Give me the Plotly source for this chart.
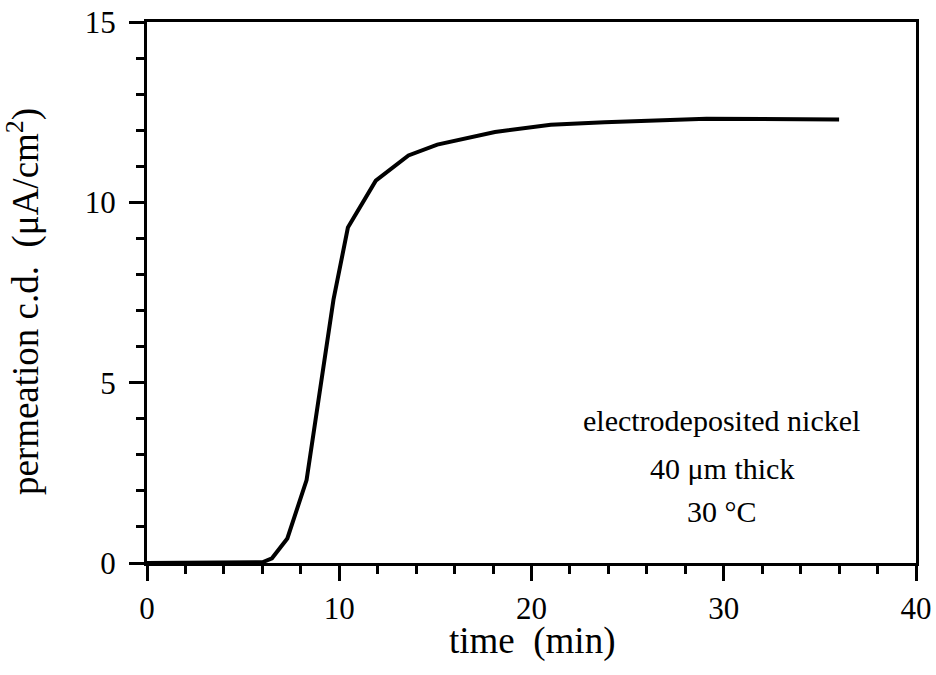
import plotly.graph_objects as go

time_min = [0, 2, 4, 6, 6.5, 7.3, 8.3, 9.7, 10.45, 11.9, 13.6, 15.1, 18.1, 21.0, 23.8, 26.0, 29.1, 36.0]
perm_cd = [0, 0, 0, 0.02, 0.13, 0.68, 2.3, 7.3, 9.3, 10.6, 11.3, 11.6, 11.95, 12.15, 12.22, 12.25, 12.32, 12.3]

x_ticks = [0, 10, 20, 30, 40]
y_ticks = [0, 5, 10, 15]
note_lines = ["electrodeposited nickel", "40 μm thick", "30 °C"]
note_y = [3.96, 2.63, 1.44]

FONT = "Liberation Serif, Times New Roman, serif"

fig = go.Figure()
fig.add_trace(go.Scatter(x=time_min, y=perm_cd, mode="lines",
                         line=dict(color="black", width=4), showlegend=False))

for txt, yy in zip(note_lines, note_y):
    fig.add_annotation(x=29.9, y=yy, text=txt, showarrow=False,
                       font=dict(family=FONT, size=30, color="black"))

# axis titles placed as text to match the reference positions
fig.add_annotation(xref="paper", yref="paper", x=-0.16, y=0.484,
                   xanchor="center", yanchor="middle",
                   text="permeation c.d.  (μA/cm<sup>2</sup>)", textangle=-90,
                   showarrow=False, font=dict(family=FONT, size=37, color="black"))
fig.add_annotation(xref="paper", yref="paper", x=0.5, y=-0.145,
                   xanchor="center", yanchor="middle",
                   text="time  (min)", showarrow=False,
                   font=dict(family=FONT, size=37, color="black"))

axis_common = dict(showgrid=False, zeroline=False, showline=True, linecolor="black",
                   linewidth=3, mirror=True, ticks="outside", tickcolor="black",
                   tickwidth=3, ticklen=15, automargin=False,
                   tickfont=dict(family=FONT, size=31, color="black"))

fig.update_xaxes(range=[0, 40], tickvals=x_ticks, ticktext=[str(v) for v in x_ticks],
                 minor=dict(dtick=2, ticks="outside", ticklen=8, tickwidth=3, tickcolor="black"),
                 ticklabelstandoff=1,
                 **axis_common)
fig.update_yaxes(range=[0, 15], tickvals=y_ticks, ticktext=[str(v) for v in y_ticks],
                 minor=dict(dtick=1, ticks="outside", ticklen=8, tickwidth=3, tickcolor="black"),
                 ticklabelstandoff=7,
                 **axis_common)

fig.update_layout(width=936, height=675, margin=dict(l=147, r=20, t=22, b=112),
                  plot_bgcolor="white", paper_bgcolor="white")

fig.write_html("out.html")
